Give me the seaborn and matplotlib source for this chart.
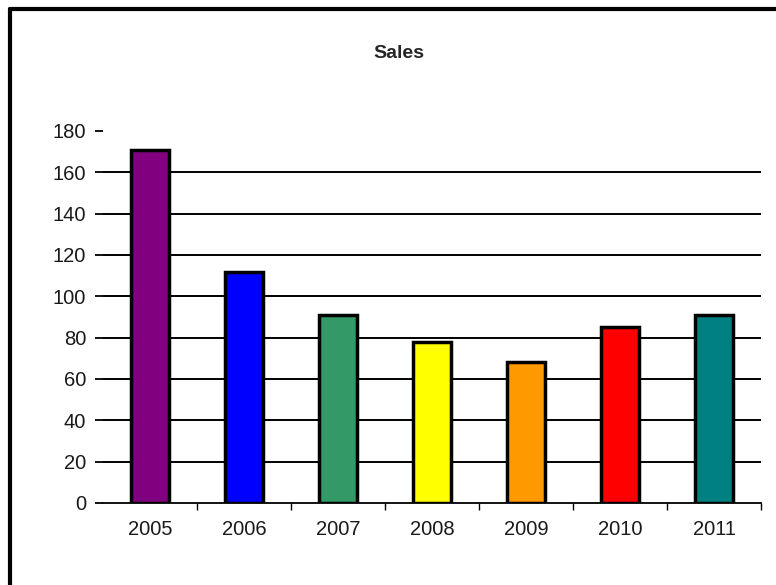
import matplotlib
matplotlib.use("Agg")
import matplotlib.pyplot as plt
import seaborn as sns
import pandas as pd
from matplotlib.lines import Line2D

years = ["2005", "2006", "2007", "2008", "2009", "2010", "2011"]
sales = [171, 112, 91, 78, 68, 85, 91]
colors = ["#800080", "#0000FF", "#339966", "#FFFF00", "#FF9900", "#FF0000", "#008080"]
yticks = [0, 20, 40, 60, 80, 100, 120, 140, 160, 180]

df = pd.DataFrame({"Year": years, "Sales": sales})

sns.set_style("white")
plt.rcParams["font.family"] = ["Liberation Sans", "DejaVu Sans"]

fig = plt.figure(figsize=(7.76, 5.85), dpi=100)
ax = fig.add_axes([103/776, 1-503/585, (761-103)/776, (503-131)/585])

sns.barplot(data=df, x="Year", y="Sales", hue="Year", palette=colors, legend=False,
            saturation=1, width=0.4, edgecolor="black", linewidth=2.5, ax=ax, zorder=3)

ax.set_ylim(0, 180)
ax.set_xlim(-0.5, 6.5)
ax.set_yticks(yticks)
ax.set_yticklabels([str(v) for v in yticks], fontsize=14.5, color="#1a1a1a")
for v in yticks[1:-1]:
    ax.axhline(v, color="black", linewidth=1.4, zorder=1)

ax.set_xticks(range(len(years)))
ax.set_xticklabels(years, fontsize=14.5, color="#1a1a1a")
ax.set_xticks([i + 0.5 for i in range(len(years))], minor=True)
ax.tick_params(axis="x", which="major", length=0, pad=12, bottom=True)
ax.tick_params(axis="x", which="minor", length=5, width=1, color="black", direction="out", bottom=True)
ax.tick_params(axis="y", length=6, width=1.3, color="black", direction="out", pad=6, left=True)

for s in ["top", "right", "left"]:
    ax.spines[s].set_visible(False)
ax.spines["bottom"].set_color("black")
ax.spines["bottom"].set_linewidth(1.3)
ax.set_xlabel("")
ax.set_ylabel("")

fig.text(399/776, 1-53/585, "Sales", ha="center", va="center", fontsize=14, fontweight="bold")

# outer frame (top and left visible)
fig.add_artist(Line2D([9.5/776, 1.0], [1-9/585, 1-9/585], color="black", linewidth=3, transform=fig.transFigure))
fig.add_artist(Line2D([9.5/776, 9.5/776], [0, 1-9/585], color="black", linewidth=3, transform=fig.transFigure))

fig.savefig("out.png", dpi=100)
